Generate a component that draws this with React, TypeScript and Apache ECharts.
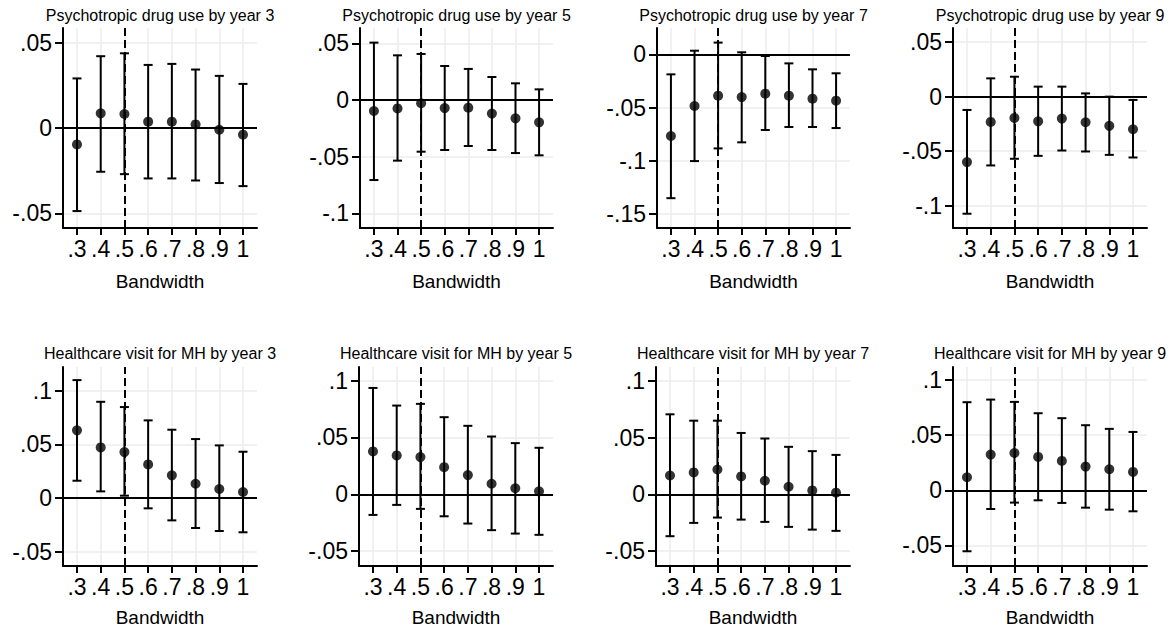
import React, { useEffect, useRef } from "react";
import * as echarts from "echarts";

const bandwidths = [0.3, 0.4, 0.5, 0.6, 0.7, 0.8, 0.9, 1.0];
const cutoffBandwidth = 0.5;

const titles = [
  "Psychotropic drug use by year 3",
  "Psychotropic drug use by year 5",
  "Psychotropic drug use by year 7",
  "Psychotropic drug use by year 9",
  "Healthcare visit for MH by year 3",
  "Healthcare visit for MH by year 5",
  "Healthcare visit for MH by year 7",
  "Healthcare visit for MH by year 9",
];

const xAxisTitle = "Bandwidth";

// point estimates
const estDrug3 = [-0.0096, 0.0086, 0.0082, 0.0037, 0.0037, 0.0021, -0.001, -0.0039];
const estDrug5 = [-0.0097, -0.0074, -0.0029, -0.0071, -0.0068, -0.012, -0.0162, -0.0197];
const estDrug7 = [-0.0767, -0.0485, -0.0388, -0.0401, -0.0369, -0.0388, -0.0416, -0.0435];
const estDrug9 = [-0.06, -0.0232, -0.0195, -0.0226, -0.0201, -0.0235, -0.0268, -0.0299];
const estVisit3 = [0.063, 0.0471, 0.0428, 0.0313, 0.0211, 0.0133, 0.0084, 0.0056];
const estVisit5 = [0.0377, 0.0342, 0.0327, 0.0239, 0.0169, 0.0093, 0.0053, 0.0026];
const estVisit7 = [0.0166, 0.0193, 0.0219, 0.0158, 0.012, 0.0067, 0.0035, 0.0015];
const estVisit9 = [0.0118, 0.0324, 0.0339, 0.0303, 0.0267, 0.0215, 0.0191, 0.0167];

// lower CI bounds
const loDrug3 = [-0.0486, -0.0256, -0.027, -0.0295, -0.0295, -0.0307, -0.0322, -0.034];
const loDrug5 = [-0.0706, -0.0535, -0.0456, -0.0441, -0.0406, -0.0441, -0.0468, -0.0488];
const loDrug7 = [-0.135, -0.1002, -0.0883, -0.0826, -0.071, -0.0682, -0.0682, -0.0692];
const loDrug9 = [-0.1074, -0.0631, -0.057, -0.0543, -0.0494, -0.0503, -0.0534, -0.0558];
const loVisit3 = [0.0161, 0.0062, 0.0022, -0.0096, -0.0208, -0.0279, -0.0307, -0.0319];
const loVisit5 = [-0.0181, -0.0093, -0.0128, -0.0193, -0.0257, -0.0315, -0.0345, -0.0356];
const loVisit7 = [-0.0368, -0.0251, -0.0204, -0.0222, -0.0242, -0.0286, -0.031, -0.0321];
const loVisit9 = [-0.0554, -0.017, -0.0112, -0.0091, -0.0115, -0.0158, -0.0176, -0.0191];

// upper CI bounds
const hiDrug3 = [0.029, 0.042, 0.0437, 0.0369, 0.0375, 0.0342, 0.0305, 0.0258];
const hiDrug5 = [0.0506, 0.0394, 0.0406, 0.03, 0.0274, 0.0203, 0.0147, 0.0094];
const hiDrug7 = [-0.0188, 0.0034, 0.011, 0.0019, -0.0016, -0.0085, -0.0141, -0.0178];
const hiDrug9 = [-0.0122, 0.0168, 0.0183, 0.0092, 0.0092, 0.003, 0.0, -0.003];
const hiVisit3 = [0.1098, 0.0896, 0.0847, 0.0723, 0.0636, 0.0549, 0.049, 0.0431];
const hiVisit5 = [0.0935, 0.078, 0.0795, 0.0678, 0.0602, 0.0508, 0.045, 0.0409];
const hiVisit7 = [0.0704, 0.0648, 0.0648, 0.054, 0.0491, 0.0418, 0.038, 0.0347];
const hiVisit9 = [0.08, 0.0824, 0.0803, 0.07, 0.0655, 0.0591, 0.0558, 0.053];

// y-axis tick labels per panel
const yTicksDrug3 = [-0.05, 0, 0.05];
const yTicksDrug5 = [-0.1, -0.05, 0, 0.05];
const yTicksDrug7 = [-0.15, -0.1, -0.05, 0];
const yTicksDrug9 = [-0.1, -0.05, 0, 0.05];
const yTicksVisit = [-0.05, 0, 0.05, 0.1];

// y-axis ranges per panel
const yRangeDrug3 = [-0.0585, 0.0585];
const yRangeDrug5 = [-0.1129, 0.0635];
const yRangeDrug7 = [-0.163, 0.0247];
const yRangeDrug9 = [-0.1205, 0.063];
const yRangeVisit3 = [-0.0633, 0.122];
const yRangeVisit5 = [-0.063, 0.1119];
const yRangeVisit7 = [-0.063, 0.112];
const yRangeVisit9 = [-0.0688, 0.112];
const xRange = [0.241, 1.059];

const estimates = [estDrug3, estDrug5, estDrug7, estDrug9, estVisit3, estVisit5, estVisit7, estVisit9];
const lows = [loDrug3, loDrug5, loDrug7, loDrug9, loVisit3, loVisit5, loVisit7, loVisit9];
const highs = [hiDrug3, hiDrug5, hiDrug7, hiDrug9, hiVisit3, hiVisit5, hiVisit7, hiVisit9];
const yTicks = [yTicksDrug3, yTicksDrug5, yTicksDrug7, yTicksDrug9, yTicksVisit, yTicksVisit, yTicksVisit, yTicksVisit];
const yRanges = [yRangeDrug3, yRangeDrug5, yRangeDrug7, yRangeDrug9, yRangeVisit3, yRangeVisit5, yRangeVisit7, yRangeVisit9];

// layout (pixels)
const gridLefts = [63, 360, 657, 953, 63, 359, 656, 953];
const gridWidths = [194, 193, 193, 194, 194, 194, 194, 194];
const rowTops = [28, 367];
const rowHeights = [200, 199];

const FONT = '"Liberation Sans", Arial, Helvetica, sans-serif';

function stataLabel(v: number): string {
  if (Math.abs(v) < 1e-9) return "0";
  const s = String(+v.toFixed(3));
  return s.replace(/^(-?)0\./, "$1.");
}

export default function App() {
  const ref = useRef<HTMLDivElement>(null);

  useEffect(() => {
    document.body.style.margin = "0";
    if (!ref.current) return;
    const chart = echarts.init(ref.current, undefined, { renderer: "svg" });

    const grids: any[] = [];
    const xAxes: any[] = [];
    const yAxes: any[] = [];
    const series: any[] = [];
    const graphics: any[] = [];

    for (let i = 0; i < 8; i++) {
      const row = i < 4 ? 0 : 1;
      const left = gridLefts[i];
      const width = gridWidths[i];
      const top = rowTops[row];
      const height = rowHeights[row];
      grids.push({ left, top, width, height, containLabel: false });

      xAxes.push({
        type: "value",
        gridIndex: i,
        min: xRange[0],
        max: xRange[1],
        axisLine: { show: true, onZero: false, lineStyle: { color: "#000", width: 2 } },
        axisTick: { show: true, length: 7, customValues: bandwidths, lineStyle: { color: "#000", width: 2 } },
        axisLabel: {
          customValues: bandwidths,
          formatter: (v: number) => stataLabel(v),
          color: "#000",
          fontSize: 23,
          fontFamily: FONT,
          margin: 9,
        },
        splitLine: { show: true, lineStyle: { color: "#ececec", width: 1.5 } },
      });

      yAxes.push({
        type: "value",
        gridIndex: i,
        min: yRanges[i][0],
        max: yRanges[i][1],
        axisLine: { show: true, onZero: false, lineStyle: { color: "#000", width: 2 } },
        axisTick: { show: true, length: 8, customValues: yTicks[i], lineStyle: { color: "#000", width: 2 } },
        axisLabel: {
          customValues: yTicks[i],
          formatter: (v: number) => stataLabel(v),
          color: "#000",
          fontSize: 23,
          fontFamily: FONT,
          margin: 11,
        },
        splitLine: { show: true, lineStyle: { color: "#ececec", width: 1.5 } },
      });

      const ciData = bandwidths.map((b, k) => [b, lows[i][k], highs[i][k]]);
      series.push({
        type: "custom",
        xAxisIndex: i,
        yAxisIndex: i,
        z: 3,
        silent: true,
        data: ciData,
        encode: { x: 0, y: [1, 2] },
        renderItem: (params: any, api: any) => {
          const x = api.value(0);
          const pHi = api.coord([x, api.value(2)]);
          const pLo = api.coord([x, api.value(1)]);
          const cap = 4.5;
          const style = { stroke: "#000", lineWidth: 2 };
          return {
            type: "group",
            children: [
              { type: "line", shape: { x1: pHi[0], y1: pHi[1], x2: pLo[0], y2: pLo[1] }, style },
              { type: "line", shape: { x1: pHi[0] - cap, y1: pHi[1], x2: pHi[0] + cap, y2: pHi[1] }, style },
              { type: "line", shape: { x1: pLo[0] - cap, y1: pLo[1], x2: pLo[0] + cap, y2: pLo[1] }, style },
            ],
          };
        },
      });

      series.push({
        type: "scatter",
        xAxisIndex: i,
        yAxisIndex: i,
        z: 4,
        symbol: "circle",
        symbolSize: 10,
        itemStyle: { color: "#000" },
        data: bandwidths.map((b, k) => [b, estimates[i][k]]),
        markLine: {
          silent: true,
          symbol: "none",
          label: { show: false },
          z: 2,
          data: [
            { yAxis: 0, lineStyle: { color: "#000", width: 2, type: "solid" } },
            { xAxis: cutoffBandwidth, lineStyle: { color: "#000", width: 2, type: [8, 4] } },
          ],
        },
      });

      const cx = left + width / 2;
      graphics.push({
        type: "text",
        x: cx,
        y: row === 0 ? 15 : 353,
        style: {
          text: titles[i],
          textAlign: "center",
          textVerticalAlign: "middle",
          fontSize: 16,
          fontFamily: FONT,
          fill: "#000",
        },
      });
      graphics.push({
        type: "text",
        x: cx,
        y: row === 0 ? 281 : 617,
        style: {
          text: xAxisTitle,
          textAlign: "center",
          textVerticalAlign: "middle",
          fontSize: 19,
          fontFamily: FONT,
          fill: "#000",
        },
      });
    }

    chart.setOption({
      animation: false,
      backgroundColor: "#fff",
      grid: grids,
      xAxis: xAxes,
      yAxis: yAxes,
      series,
      graphic: graphics,
    });

    return () => chart.dispose();
  }, []);

  return (
    <div
      ref={ref}
      style={{ position: "fixed", left: 0, top: 0, width: 1174, height: 630 }}
    />
  );
}
